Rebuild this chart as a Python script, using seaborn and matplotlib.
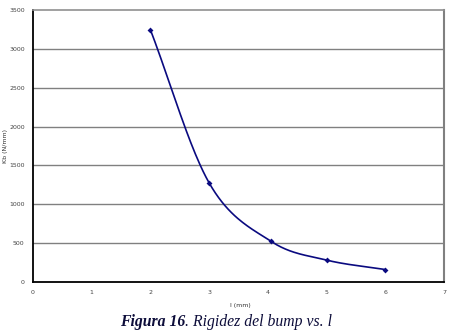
import numpy as np
import pandas as pd
import matplotlib
matplotlib.use("Agg")
import matplotlib.pyplot as plt
import seaborn as sns

l_mm = [2.0, 3.0, 4.05, 5.0, 6.0]
kb = [3245, 1275, 525, 282, 160]

x_ticks = [0, 1, 2, 3, 4, 5, 6, 7]
y_ticks = [0, 500, 1000, 1500, 2000, 2500, 3000, 3500]

def catmull_rom(xs, ys, n=40):
    xs = np.asarray(xs, float); ys = np.asarray(ys, float)
    px = np.concatenate([[2*xs[0]-xs[1]], xs, [2*xs[-1]-xs[-2]]])
    py = np.concatenate([[2*ys[0]-ys[1]], ys, [2*ys[-1]-ys[-2]]])
    ox, oy = [], []
    t = np.linspace(0, 1, n)
    for i in range(1, len(px)-2):
        for P, out in ((px, ox), (py, oy)):
            p0, p1, p2, p3 = P[i-1], P[i], P[i+1], P[i+2]
            out.extend(0.5*((2*p1) + (-p0+p2)*t + (2*p0-5*p1+4*p2-p3)*t**2 + (-p0+3*p1-3*p2+p3)*t**3))
    return np.array(ox), np.array(oy)

sx, sy = catmull_rom(l_mm, kb)
curve = pd.DataFrame({"x": sx, "y": sy})
pts = pd.DataFrame({"x": l_mm, "y": kb})

sns.set_style("white")
fig = plt.figure(figsize=(4.51, 3.35), dpi=100)
ax = fig.add_axes([33/451, 1-282/335, (444-33)/451, (282-10)/335])

navy = "#0a0a80"
sns.lineplot(data=curve, x="x", y="y", ax=ax, color=navy, linewidth=1.2, sort=False, estimator=None)
sns.scatterplot(data=pts, x="x", y="y", ax=ax, color=navy, marker="D", s=9, linewidth=0, zorder=5)

ax.set_xlim(0, 7)
ax.set_ylim(0, 3500)
ax.set_xticks(x_ticks)
ax.set_yticks(y_ticks)
ax.set_xticklabels([str(v) for v in x_ticks])
ax.set_yticklabels([str(v) for v in y_ticks])
ax.tick_params(axis="both", labelsize=4.5, length=2, width=0.8, colors="black", pad=4)
ax.tick_params(axis="x", labelcolor="#444444")
ax.tick_params(axis="y", labelcolor="#444444")
for yv in y_ticks[1:-1]:
    ax.axhline(yv, color="#808080", linewidth=1.0, zorder=0)
ax.spines["left"].set_color("black"); ax.spines["left"].set_linewidth(1.3)
ax.spines["bottom"].set_color("black"); ax.spines["bottom"].set_linewidth(1.3)
ax.spines["top"].set_color("#909090"); ax.spines["top"].set_linewidth(1.2)
ax.spines["right"].set_color("#808080"); ax.spines["right"].set_linewidth(1.5)
ax.set_xlabel("l (mm)", fontsize=4.5, color="#333333")
ax.set_ylabel("Kb (N/mm)", fontsize=4.5, color="#333333")
ax.yaxis.set_label_coords((8 - 33) / 411, 0.5)
ax.xaxis.set_label_coords((240 - 33) / 411, -(303 - 282) / 272)

cap_y = 1 - 322/335
t1 = fig.text(120/451, cap_y, "Figura 16", fontsize=11.3, family="Liberation Serif",
              fontweight="bold", fontstyle="italic", color="#0d0d3a", ha="left", va="center")
fig.canvas.draw()
bb = t1.get_window_extent(renderer=fig.canvas.get_renderer())
fig.text(bb.x1 / fig.bbox.width, cap_y, ". Rigidez del bump vs. l", fontsize=11.3,
         family="Liberation Serif", fontstyle="italic", color="#0d0d3a", ha="left", va="center")

fig.savefig("out.png", dpi=100)
